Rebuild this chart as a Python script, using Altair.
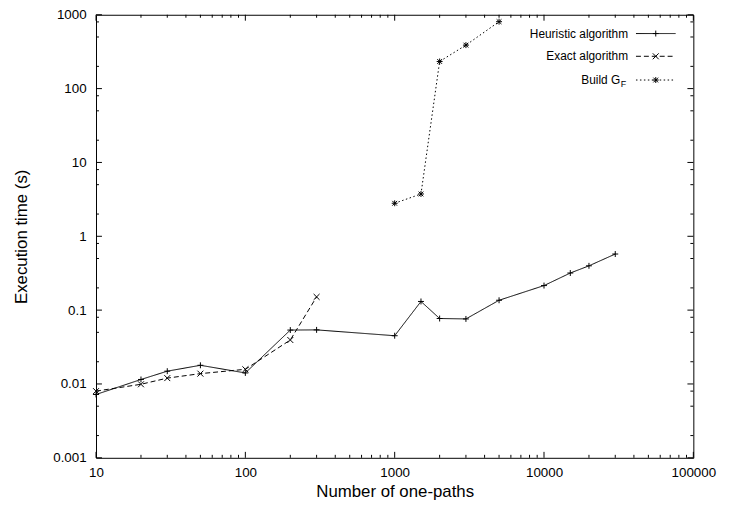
import altair as alt
import pandas as pd

FONT = "Liberation Sans"

# ---- data ----
n_heur = [10, 20, 30, 50, 100, 200, 300, 1000, 1500, 2000, 3000, 5000, 10000, 15000, 20000, 30000]
t_heur = [0.0072, 0.0115, 0.0149, 0.0179, 0.0141, 0.0537, 0.054, 0.045, 0.131, 0.077, 0.076,
          0.136, 0.215, 0.318, 0.398, 0.575]
n_exact = [10, 20, 30, 50, 100, 200, 300]
t_exact = [0.0080, 0.0099, 0.0120, 0.0138, 0.0158, 0.0394, 0.151]
n_build = [1000, 1500, 2000, 3000, 5000]
t_build = [2.8, 3.74, 233, 388, 806]

series_names = ["Heuristic algorithm", "Exact algorithm", "Build G"]
series_sub = ["", "", "F"]

x_major = [10, 100, 1000, 10000, 100000]
x_minor = [m * 10 ** k for k in range(1, 5) for m in range(2, 10)]
y_major = [0.001, 0.01, 0.1, 1, 10, 100, 1000]
y_minor = [m * 10.0 ** k for k in range(-3, 3) for m in (2, 5, 8)]

# ---- layout / style ----
W, H = 604, 448
MAJ, MIN = 6, 3
PLUS = "M-1,0L1,0M0,-1L0,1"
CROSS = "M-1,-1L1,1M-1,1L1,-1"
STAR = "M-1,0L1,0M0,-1L0,1M-0.8,-0.8L0.8,0.8M-0.8,0.8L0.8,-0.8"
shapes = [PLUS, CROSS, STAR]
dashes = [[1, 0], [5, 3], [1.5, 2.5]]

df = pd.concat([
    pd.DataFrame({"n": n_heur, "t": t_heur, "series": series_names[0]}),
    pd.DataFrame({"n": n_exact, "t": t_exact, "series": series_names[1]}),
    pd.DataFrame({"n": n_build, "t": t_build, "series": series_names[2]}),
])

xscale = alt.Scale(type="log", domain=[10, 100000], nice=False)
yscale = alt.Scale(type="log", domain=[0.001, 1000], nice=False)

xaxis = alt.Axis(values=x_major, format="~g", ticks=False, domain=False, grid=False,
                 labelPadding=8, labelFontSize=13.5, labelFont=FONT, labelColor="black",
                 title="Number of one-paths", titleFont=FONT, titleFontSize=17,
                 titleFontWeight="normal", titleColor="black", titlePadding=5,
                 labelFlush=False)
yaxis = alt.Axis(values=y_major, format="~g", ticks=False, domain=False, grid=False,
                 labelPadding=10, labelFontSize=13.5, labelFont=FONT, labelColor="black",
                 title="Execution time (s)", titleFont=FONT, titleFontSize=17,
                 titleFontWeight="normal", titleColor="black", titlePadding=22,
                 labelFlush=False)

X = lambda f: alt.X(f, scale=xscale, axis=xaxis)
Y = lambda f: alt.Y(f, scale=yscale, axis=yaxis)

lines = alt.Chart(df).mark_line(color="black", strokeWidth=1).encode(
    x=X("n:Q"), y=Y("t:Q"),
    strokeDash=alt.StrokeDash("series:N", scale=alt.Scale(domain=series_names, range=dashes), legend=None),
)
points = alt.Chart(df).mark_point(filled=False, color="black", strokeWidth=1, size=36, opacity=1).encode(
    x=X("n:Q"), y=Y("t:Q"),
    shape=alt.Shape("series:N", scale=alt.Scale(domain=series_names, range=shapes), legend=None),
)

layers = [lines, points]


def xticks(vals, length):
    d = pd.DataFrame({"n": vals})
    out = []
    for y0, y1 in ((H, H - length), (0, length)):
        out.append(alt.Chart(d).mark_rule(color="black", strokeWidth=1).encode(
            x=X("n:Q"), y=alt.value(y0), y2=alt.value(y1)))
    return out


def yticks(vals, length):
    d = pd.DataFrame({"t": vals})
    out = []
    for x0, x1 in ((0, length), (W, W - length)):
        out.append(alt.Chart(d).mark_rule(color="black", strokeWidth=1).encode(
            y=Y("t:Q"), x=alt.value(x0), x2=alt.value(x1)))
    return out


layers += xticks(x_major, MAJ) + xticks(x_minor, MIN) + yticks(y_major, MAJ) + yticks(y_minor, MIN)

# ---- legend (drawn by hand to allow the subscript) ----
row_y = [19, 42, 66]
TXT_X, L0, L1, MK = 538, 546, 586, 566
for i, name in enumerate(series_names):
    ld = pd.DataFrame({"label": [name], "sub": [series_sub[i]]})
    tx = TXT_X if not series_sub[i] else TXT_X - 8
    layers.append(alt.Chart(ld).mark_text(align="right", baseline="middle", font=FONT, fontSize=12,
                                          color="black").encode(
        x=alt.value(tx), y=alt.value(row_y[i]), text="label:N"))
    if series_sub[i]:
        layers.append(alt.Chart(ld).mark_text(align="left", baseline="middle", font=FONT, fontSize=9,
                                              color="black").encode(
            x=alt.value(tx + 0.5), y=alt.value(row_y[i] + 4), text="sub:N"))
    layers.append(alt.Chart(ld).mark_rule(color="black", strokeWidth=1, strokeDash=dashes[i]).encode(
        x=alt.value(L0), x2=alt.value(L1), y=alt.value(row_y[i])))
    layers.append(alt.Chart(ld).mark_point(filled=False, color="black", strokeWidth=1, size=36,
                                           opacity=1, shape=shapes[i]).encode(
        x=alt.value(MK), y=alt.value(row_y[i])))

chart = alt.layer(*layers).properties(
    width=W, height=H,
    autosize=alt.AutoSizeParams(type="none"),
    padding={"left": 89, "top": 4, "right": 31, "bottom": 55},
    background="white",
).configure_view(stroke="black", strokeWidth=1)

chart.save("out.html", embed_options={"renderer": "svg", "actions": False})
